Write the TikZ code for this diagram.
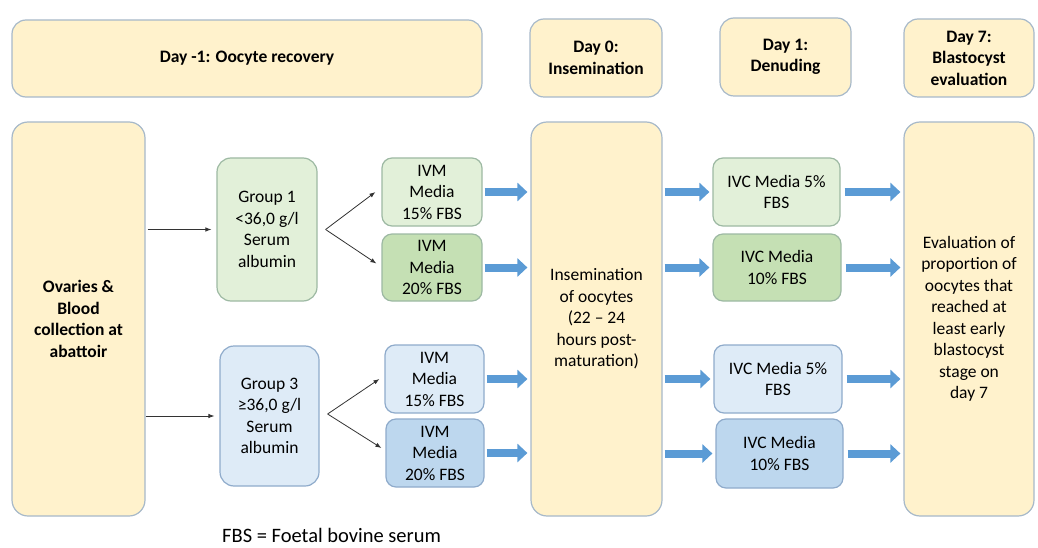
\documentclass[tikz,border=0pt]{standalone}
\usepackage{fontspec}
\setmainfont{Carlito}
\usetikzlibrary{arrows.meta}
\definecolor{cream}{HTML}{FFF2CC}
\definecolor{creamline}{HTML}{A7B9C9}
\definecolor{greenA}{HTML}{E2F0D9}
\definecolor{greenB}{HTML}{C5E0B4}
\definecolor{greenline}{HTML}{9DB9A3}
\definecolor{blueA}{HTML}{DEEBF7}
\definecolor{blueB}{HTML}{BDD7EE}
\definecolor{blueline}{HTML}{8FABCB}
\definecolor{arrowblue}{HTML}{5B9BD5}
\tikzset{
  box/.style={draw=creamline, line width=1.2pt, rounded corners=10pt, align=center, inner sep=0pt,
    font=\fontsize{17.5}{21.5}\selectfont},
  daybox/.style={box, fill=cream, rounded corners=14pt, font=\fontsize{17.5}{21.5}\selectfont\bfseries},
  stagebox/.style={box, fill=cream, rounded corners=16pt, minimum width=132pt, minimum height=394pt},
  greenbox/.style={box, draw=greenline},
  bluebox/.style={box, draw=blueline},
  thinarrow/.style={draw=black!80, line width=0.8pt, -{Latex[length=6pt,width=4.5pt]}},
  bluearrow/.style={draw=arrowblue, line width=8pt, -{Triangle[length=10pt,width=18pt]},
    shorten <=2pt, shorten >=3pt}
}
\begin{document}
\begin{tikzpicture}[x=1pt,y=-1pt]
\useasboundingbox (0,0) rectangle (1038,548);
% day headers
\node[daybox, minimum width=470pt, minimum height=77pt] (hd0) at (247,58.5) {Day -1: Oocyte recovery};
\node[daybox, minimum width=132pt, minimum height=78pt] (hd1) at (596,58) {Day 0:\\Insemination};
\node[daybox, minimum width=131pt, minimum height=78pt] (hd2) at (785.5,57) {Day 1:\\Denuding};
\node[daybox, minimum width=130pt, minimum height=78pt] (hd3) at (969,58) {Day 7:\\Blastocyst\\evaluation};

% tall stage boxes
\node[stagebox, minimum width=133pt, font=\fontsize{17.5}{21.5}\selectfont\bfseries] (ovary) at (78.5,319) {Ovaries \&\\Blood\\collection at\\abattoir};
\node[stagebox, minimum width=131pt] (insem) at (596.5,319) {Insemination\\of oocytes\\(22 – 24\\hours post-\\maturation)};
\node[stagebox, minimum width=130pt] (eval) at (969,319) {Evaluation of\\proportion of\\oocytes that\\reached at\\least early\\blastocyst\\stage on\\day 7};

% groups
\node[greenbox, fill=greenA, minimum width=100pt, minimum height=143pt, rounded corners=14pt] (grp1) at (267,229.5) {Group 1\\<36,0 g/l\\Serum\\albumin};
\node[bluebox, fill=blueA, minimum width=99pt, minimum height=140pt, rounded corners=14pt] (grp3) at (269.5,416) {Group 3\\≥36,0 g/l\\Serum\\albumin};

% IVM media
\node[greenbox, fill=greenA, minimum width=100pt, minimum height=68pt] (ivm1) at (432,192) {IVM\\Media\\15\% FBS};
\node[greenbox, fill=greenB, minimum width=100pt, minimum height=67pt] (ivm2) at (432,267.5) {IVM\\Media\\20\% FBS};
\node[bluebox, fill=blueA, minimum width=99pt, minimum height=68pt] (ivm3) at (434.5,379) {IVM\\Media\\15\% FBS};
\node[bluebox, fill=blueB, minimum width=98pt, minimum height=68pt] (ivm4) at (435,453) {IVM\\Media\\20\% FBS};

% IVC media
\node[greenbox, fill=greenA, minimum width=127pt, minimum height=68pt] (ivc1) at (776.5,192) {IVC Media 5\%\\FBS};
\node[greenbox, fill=greenB, minimum width=128pt, minimum height=67pt] (ivc2) at (777,267.5) {IVC Media\\10\% FBS};
\node[bluebox, fill=blueA, minimum width=128pt, minimum height=68pt] (ivc3) at (778,379) {IVC Media 5\%\\FBS};
\node[bluebox, fill=blueB, minimum width=127pt, minimum height=69pt] (ivc4) at (779.5,453.5) {IVC Media\\10\% FBS};

\node[inner sep=0pt, anchor=base west, font=\fontsize{20.5}{24}\selectfont] (legend) at (222,542.5) {FBS = Foetal bovine serum};

% thin arrows
\draw[thinarrow, shorten <=2pt, shorten >=5pt] (ovary.east |- grp1.west) -- (grp1.west);
\draw[thinarrow, shorten >=5pt] (ovary.east |- grp3.west) -- (grp3.west);
\coordinate (fk1) at ([xshift=8pt]grp1.east);
\coordinate (fk3) at ([xshift=8pt,yshift=2pt]grp3.east);
\draw[thinarrow] (fk1) -- ([xshift=-6pt]ivm1.west);
\draw[thinarrow] (fk1) -- ([xshift=-5pt,yshift=4pt]ivm2.west);
\draw[thinarrow] (fk3) -- ([xshift=-5pt]ivm3.west);
\draw[thinarrow] (fk3) -- ([xshift=-4pt,yshift=5pt]ivm4.west);

% blue arrows
\foreach \m in {1,2,3,4}{
  \draw[bluearrow] (ivm\m.east) -- (ivm\m.east -| insem.west);
  \draw[bluearrow] (insem.east |- ivc\m.west) -- (ivc\m.west);
  \draw[bluearrow, shorten <=4pt] (ivc\m.east) -- (ivc\m.east -| eval.west);
}
\end{tikzpicture}
\end{document}
